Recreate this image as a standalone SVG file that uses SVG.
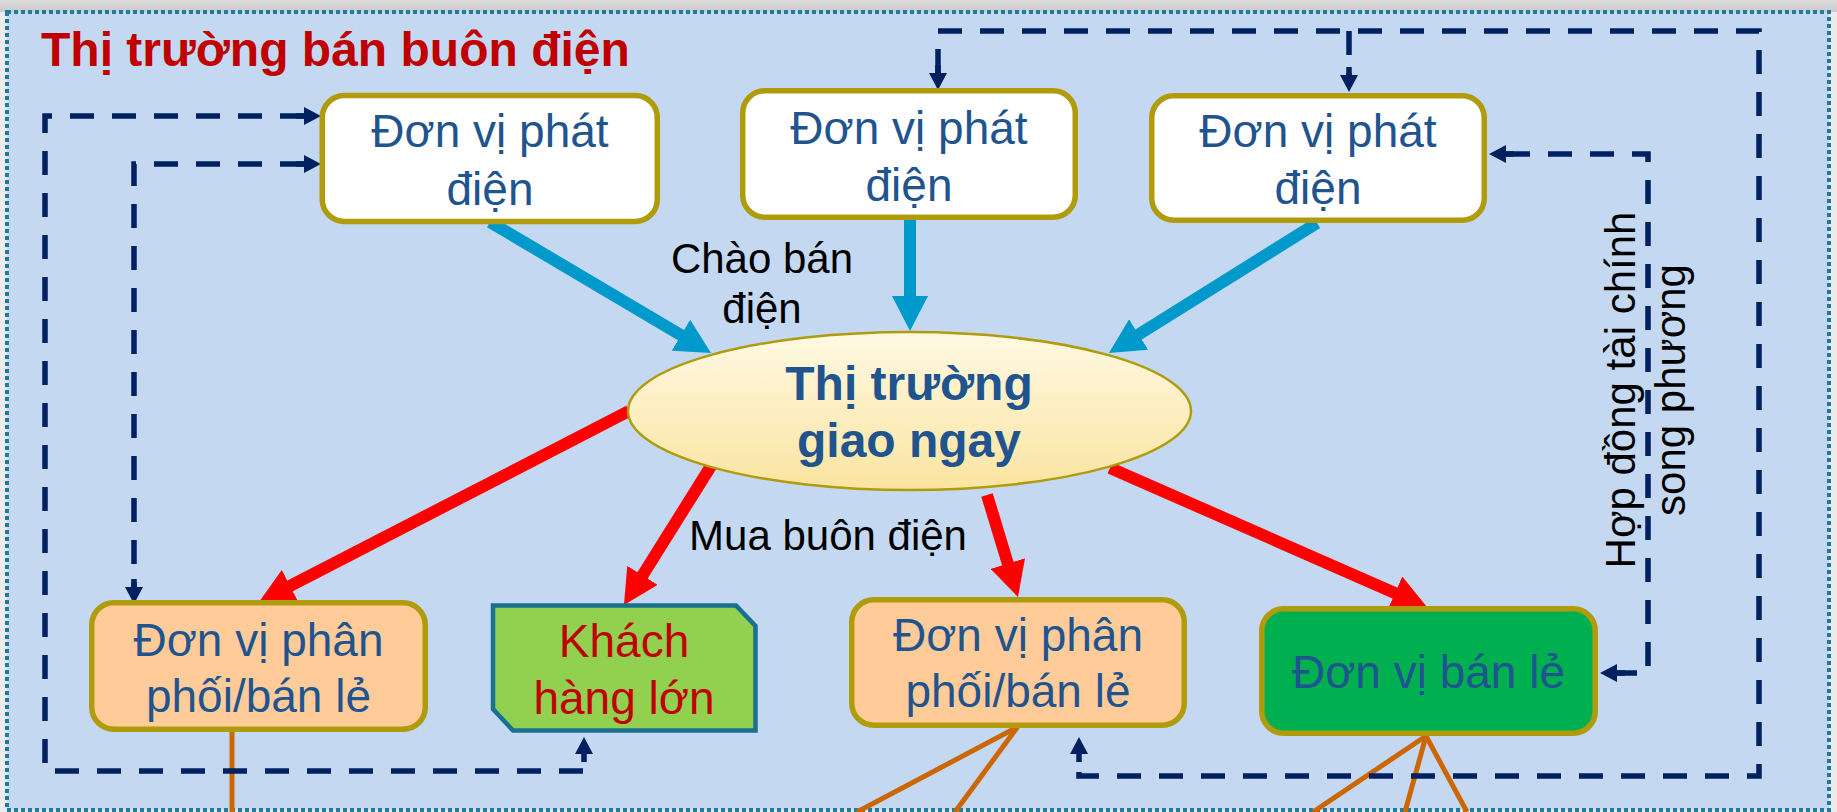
<svg xmlns="http://www.w3.org/2000/svg" width="1837" height="812" viewBox="0 0 1837 812">
  <defs>
    <linearGradient id="topband" x1="0" y1="0" x2="0" y2="1">
      <stop offset="0" stop-color="#DCDCDC"/>
      <stop offset="1" stop-color="#CACACA"/>
    </linearGradient>
    <linearGradient id="ellfill" x1="0" y1="0" x2="0" y2="1">
      <stop offset="0" stop-color="#FFF9E3"/>
      <stop offset="1" stop-color="#FAE4A0"/>
    </linearGradient>
    <marker id="hb" markerUnits="userSpaceOnUse" viewBox="0 0 36 36" markerWidth="36" markerHeight="36" refX="1" refY="18" orient="auto">
      <path d="M0,0 L35,18 L0,36 Z" fill="#0099CC"/>
    </marker>
    <marker id="hr" markerUnits="userSpaceOnUse" viewBox="0 0 36 36" markerWidth="36" markerHeight="36" refX="1" refY="18" orient="auto">
      <path d="M0,0 L35,18 L0,36 Z" fill="#FF0000"/>
    </marker>
    <marker id="hd" markerUnits="userSpaceOnUse" viewBox="-8 -9 25 18" markerWidth="25" markerHeight="18" refX="0" refY="0" orient="auto-start-reverse">
      <path d="M-8,-2.75 H0 V-9 L17,0 L0,9 V2.75 H-8 Z" fill="#002060"/>
    </marker>
    <style>
      .box { fill:#FFFFFF; stroke:#AF9B0C; stroke-width:5.5; }
      .peach { fill:#FFCC99; }
      .green { fill:#00B050; }
      .t { font-family:"Liberation Sans", Arial, sans-serif; font-size:46px; fill:#1F548F; text-anchor:middle; }
      .tb { font-family:"Liberation Sans", Arial, sans-serif; font-size:48px; font-weight:bold; fill:#1F548F; text-anchor:middle; }
      .lbl { font-family:"Liberation Sans", Arial, sans-serif; font-size:42px; fill:#000000; text-anchor:middle; }
      .title { font-family:"Liberation Sans", Arial, sans-serif; font-size:48px; font-weight:bold; fill:#C00000; }
      .blue { fill:none; stroke:#0099CC; stroke-width:12; marker-end:url(#hb); }
      .red { fill:none; stroke:#FF0000; stroke-width:12; marker-end:url(#hr); }
      .or { fill:none; stroke:#CC6600; stroke-width:5; }
      .dash { fill:none; stroke:#002060; stroke-width:5.5; stroke-dasharray:24 18; }
      .both { marker-start:url(#hd); marker-end:url(#hd); }
      .end { marker-end:url(#hd); }
    </style>
  </defs>

  <!-- background -->
  <rect x="0" y="0" width="1837" height="812" fill="#ECECEC"/>
  <rect x="0" y="0" width="1837" height="12" fill="url(#topband)"/>
  <rect x="7" y="12" width="1822" height="798" fill="#C4D9F1" stroke="#1F7B9E" stroke-width="4" stroke-dasharray="4 3"/>

  <text class="title" x="41" y="66">Thị trường bán buôn điện</text>

  <g id="connectors">
    <!-- orange feeder lines -->
    <path class="or" d="M232,732 V812"/>
    <path class="or" d="M1017.5,727 L857,812"/>
    <path class="or" d="M1017.5,727 L955,812"/>
    <path class="or" d="M1426,736 L1313,812"/>
    <path class="or" d="M1426,736 L1405,812"/>
    <path class="or" d="M1426,736 L1467,812"/>
    <!-- offers (blue) -->
    <path class="blue" d="M490,222 L681.8,335.7"/>
    <path class="blue" d="M910,219 L910,297"/>
    <path class="blue" d="M1317,223 L1137.8,335"/>
    <!-- purchases (red) -->
    <path class="red" d="M629,411 L289.2,586.4"/>
    <path class="red" d="M711,466 L642,576.2"/>
    <path class="red" d="M987,495 L1008.1,564.5"/>
    <path class="red" d="M1110,468 L1395.9,593.4"/>
    <!-- contracts (dashed) -->
    <path class="dash both" d="M304,116 H45 V771 H584 V754"/>
    <path class="dash both" d="M304,164 H134 V587"/>
    <path class="dash both" d="M938,73 V31 H1759 V776 H1079 V754"/>
    <path class="dash end" d="M1349,31 V75"/>
    <path class="dash both" d="M1506,154 H1648 V673 H1617"/>
  </g>

  <g id="gen1">
    <rect class="box" x="322.25" y="95.5" width="335" height="126" rx="22"/>
    <text class="t" x="490" y="147">Đơn vị phát</text>
    <text class="t" x="490" y="205">điện</text>
  </g>
  <g id="gen2">
    <rect class="box" x="742.75" y="90.75" width="332.5" height="126.5" rx="22"/>
    <text class="t" x="909" y="143.5">Đơn vị phát</text>
    <text class="t" x="909" y="201">điện</text>
  </g>
  <g id="gen3">
    <rect class="box" x="1151.75" y="95.75" width="332.5" height="124.5" rx="22"/>
    <text class="t" x="1318" y="147">Đơn vị phát</text>
    <text class="t" x="1318" y="203.5">điện</text>
  </g>
  <g id="spot-market">
    <ellipse cx="909.5" cy="411" rx="281.5" ry="79" fill="url(#ellfill)" stroke="#AF9B0C" stroke-width="2.5"/>
    <text class="tb" x="909" y="400">Thị trường</text>
    <text class="tb" x="909" y="457">giao ngay</text>
  </g>
  <g id="dist1">
    <rect class="box peach" x="91.75" y="602.75" width="333.5" height="126.5" rx="22"/>
    <text class="t" x="258.5" y="656">Đơn vị phân</text>
    <text class="t" x="258.5" y="712">phối/bán lẻ</text>
  </g>
  <g id="large-customer">
    <path d="M493,605.5 H736 L755.5,626 V730.5 H513 L493,709 Z" fill="#92D050" stroke="#19708F" stroke-width="4.5"/>
    <text class="t" x="624" y="657" style="fill:#C00000">Khách</text>
    <text class="t" x="624" y="714" style="fill:#C00000">hàng lớn</text>
  </g>
  <g id="dist2">
    <rect class="box peach" x="851.75" y="599.75" width="332.5" height="125.5" rx="22"/>
    <text class="t" x="1018" y="651">Đơn vị phân</text>
    <text class="t" x="1018" y="707">phối/bán lẻ</text>
  </g>
  <g id="retailer">
    <rect class="box green" x="1261.75" y="608.75" width="333.5" height="124.5" rx="22"/>
    <text class="t" x="1428.5" y="688">Đơn vị bán lẻ</text>
  </g>

  <g id="labels">
    <text class="lbl" x="762" y="273">Chào bán</text>
    <text class="lbl" x="762" y="323">điện</text>
    <text class="lbl" x="828" y="550">Mua buôn điện</text>
    <text class="lbl" transform="translate(1635,390) rotate(-90)"><tspan x="0" y="0">Hợp đồng tài chính</tspan><tspan x="0" y="50">song phương</tspan></text>
  </g>
</svg>
